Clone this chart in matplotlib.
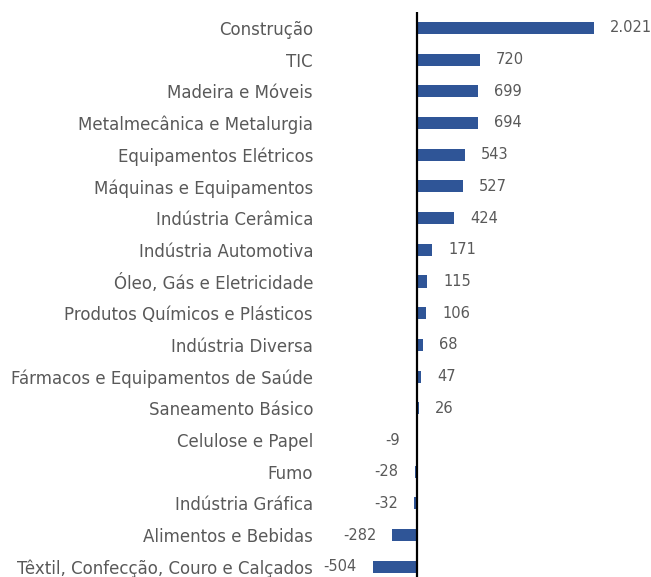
import matplotlib.pyplot as plt

plt.rcParams['font.family'] = ['DejaVu Sans']

setores = ['Construção', 'TIC', 'Madeira e Móveis', 'Metalmecânica e Metalurgia',
           'Equipamentos Elétricos', 'Máquinas e Equipamentos', 'Indústria Cerâmica',
           'Indústria Automotiva', 'Óleo, Gás e Eletricidade',
           'Produtos Químicos e Plásticos', 'Indústria Diversa',
           'Fármacos e Equipamentos de Saúde', 'Saneamento Básico',
           'Celulose e Papel', 'Fumo', 'Indústria Gráfica', 'Alimentos e Bebidas',
           'Têxtil, Confecção, Couro e Calçados']
saldo = [2021, 720, 699, 694, 543, 527, 424, 171, 115, 106, 68, 47, 26,
         -9, -28, -32, -282, -504]

texto = '#595959'
azul = '#2F5597'

fig = plt.figure(figsize=(6.51, 5.77), dpi=100)
ax = fig.add_axes([320 / 651, 0, 331 / 651, 565 / 577])

pos = list(range(len(setores)))
ax.barh(pos, saldo, height=0.38, color=azul)
ax.axvline(0, color='black', linewidth=1.6)

for y, v in zip(pos, saldo):
    rotulo = f'{v:,}'.replace(',', '.')
    if v >= 0:
        ax.annotate(rotulo, (v, y), xytext=(16, 0), textcoords='offset pixels',
                    ha='left', va='center', fontsize=10.5, color=texto)
    else:
        ax.annotate(rotulo, (v, y), xytext=(-16, 0), textcoords='offset pixels',
                    ha='right', va='center', fontsize=10.5, color=texto)

ax.set_yticks(pos)
ax.set_yticklabels(setores, fontsize=12, color=texto)
ax.tick_params(axis='y', length=0, pad=5)
ax.set_xticks([])
ax.set_xlim(-1107, 2671)
ax.set_ylim(17.32, -0.5)
for s in ax.spines.values():
    s.set_visible(False)

plt.savefig('out.png', dpi=100)
